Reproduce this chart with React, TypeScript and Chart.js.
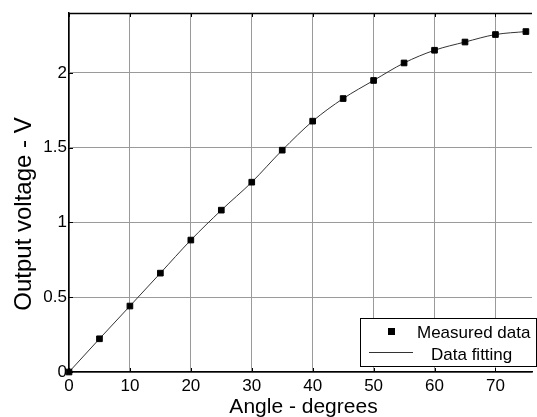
import React, { useEffect, useRef } from "react";
import { Chart, registerables } from "chart.js";

Chart.register(...registerables);

const angles = [0, 5, 10, 15, 20, 25, 30, 35, 40, 45, 50, 55, 60, 65, 70, 75];
const voltages = [0, 0.222, 0.441, 0.661, 0.882, 1.082, 1.269, 1.483, 1.677, 1.828, 1.949, 2.066, 2.151, 2.206, 2.256, 2.276];
const xTicks = [0, 10, 20, 30, 40, 50, 60, 70];
const yTicks = [0, 0.5, 1, 1.5, 2];
const xTitle = "Angle - degrees";
const yTitle = "Output voltage - V";
const legendLabels = ["Measured data", "Data fitting"];

const FONT = "'Liberation Sans', Arial, sans-serif";

const decorPlugin = {
  id: "decor",
  afterDraw(chart: any) {
    const { ctx, chartArea } = chart;
    const { left, top, right, bottom } = chartArea;
    const xs = chart.scales.x;
    const ys = chart.scales.y;
    ctx.save();
    // top border
    ctx.strokeStyle = "#000";
    ctx.lineWidth = 1.5;
    ctx.beginPath();
    ctx.moveTo(left, top + 0.5);
    ctx.lineTo(right, top + 0.5);
    ctx.stroke();
    // inner tick marks
    ctx.lineWidth = 1;
    ctx.beginPath();
    xTicks.forEach((v) => {
      const px = Math.round(xs.getPixelForValue(v)) + 0.5;
      ctx.moveTo(px, top);
      ctx.lineTo(px, top + 4);
      ctx.moveTo(px, bottom);
      ctx.lineTo(px, bottom - 4);
    });
    yTicks.forEach((v) => {
      const py = Math.round(ys.getPixelForValue(v)) + 0.5;
      ctx.moveTo(left, py);
      ctx.lineTo(left + 4, py);
    });
    ctx.stroke();

    // axis titles
    ctx.fillStyle = "#000";
    ctx.font = `21px ${FONT}`;
    ctx.textAlign = "center";
    ctx.textBaseline = "alphabetic";
    ctx.fillText(xTitle, (left + right) / 2 + 3, 413);

    ctx.save();
    ctx.translate(24, 214);
    ctx.rotate(-Math.PI / 2);
    ctx.font = `24px ${FONT}`;
    ctx.textAlign = "center";
    ctx.textBaseline = "middle";
    ctx.fillText(yTitle, 0, 0);
    ctx.restore();

    // legend
    const lx = 360.5, ly = 318.5, lw = 176, lh = 48;
    ctx.fillStyle = "#fff";
    ctx.fillRect(lx, ly, lw, lh);
    ctx.strokeStyle = "#000";
    ctx.lineWidth = 1;
    ctx.strokeRect(lx, ly, lw, lh);
    ctx.fillStyle = "#000";
    ctx.fillRect(388, 328, 7, 7);
    ctx.strokeStyle = "#333";
    ctx.beginPath();
    ctx.moveTo(369, 352.5);
    ctx.lineTo(413, 352.5);
    ctx.stroke();
    ctx.fillStyle = "#000";
    ctx.font = `17px ${FONT}`;
    ctx.textAlign = "left";
    ctx.textBaseline = "alphabetic";
    ctx.fillText(legendLabels[0], 417, 338);
    ctx.fillText(legendLabels[1], 431, 360);
    ctx.restore();
  },
};

export default function App() {
  const ref = useRef<HTMLCanvasElement | null>(null);
  useEffect(() => {
    if (!ref.current) return;
    const pts = angles.map((a, i) => ({ x: a, y: voltages[i] }));
    const chart = new Chart(ref.current, {
      type: "scatter",
      data: {
        datasets: [
          {
            type: "scatter",
            label: legendLabels[0],
            data: pts,
            pointStyle: "rect",
            pointRadius: 4,
            backgroundColor: "#000",
            borderColor: "#000",
            borderWidth: 1,
            clip: false,
            order: 0,
          } as any,
          {
            type: "line",
            label: legendLabels[1],
            data: pts,
            showLine: true,
            borderColor: "#333",
            borderWidth: 1,
            pointRadius: 0,
            cubicInterpolationMode: "monotone",
            fill: false,
            order: 1,
          } as any,
        ],
      },
      options: {
        animation: false,
        responsive: false,
        maintainAspectRatio: false,
        layout: { padding: { top: 13, left: 0, right: 0, bottom: 0 } },
        plugins: { legend: { display: false }, tooltip: { enabled: false } },
        scales: {
          x: {
            type: "linear",
            min: 0,
            max: 76,
            afterBuildTicks: (s: any) => {
              s.ticks = xTicks.map((v) => ({ value: v }));
            },
            afterFit: (s: any) => {
              s.height = 45;
            },
            grid: { color: "#9a9a9a", lineWidth: 1, drawTicks: false },
            border: { color: "#000", width: 1.5 },
            ticks: {
              color: "#000",
              font: { family: FONT, size: 17 },
              padding: 4,
              maxRotation: 0,
              callback: (v: any) => String(v),
            },
          },
          y: {
            type: "linear",
            min: 0,
            max: 2.4,
            afterBuildTicks: (s: any) => {
              s.ticks = yTicks.map((v) => ({ value: v }));
            },
            afterFit: (s: any) => {
              s.width = 69;
            },
            grid: { color: "#9a9a9a", lineWidth: 1, drawTicks: false },
            border: { color: "#000", width: 1.5 },
            ticks: {
              color: "#000",
              font: { family: FONT, size: 17 },
              padding: 2,
              callback: (v: any) => String(v),
            },
          },
        },
      },
      plugins: [decorPlugin],
    });
    return () => chart.destroy();
  }, []);
  return (
    <div style={{ position: "absolute", left: 0, top: 0, width: 537, height: 417, background: "#fff" }}>
      <canvas ref={ref} width={537} height={417} style={{ display: "block", width: 537, height: 417 }} />
    </div>
  );
}
